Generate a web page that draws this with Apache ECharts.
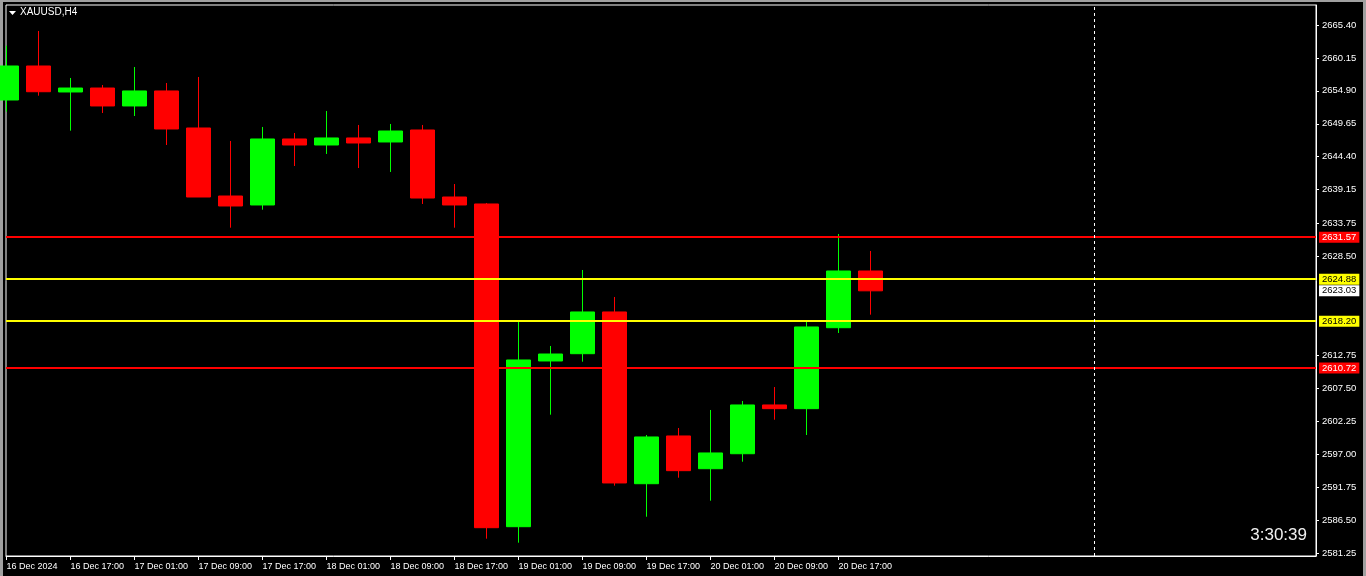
<!DOCTYPE html>
<html>
<head>
<meta charset="utf-8">
<script src="https://cdn.jsdelivr.net/npm/echarts@6/dist/echarts.min.js"></script>
<style>
  html, body { margin: 0; padding: 0; background: #000; }
  #chart { width: 1366px; height: 576px; }
</style>
</head>
<body>
<div id="chart"></div>
<script>
// XAUUSD H4 candles, 16 Dec 09:00 .. 20 Dec 21:00
const times = [
  '16 Dec 09:00', '16 Dec 13:00', '16 Dec 17:00', '16 Dec 21:00',
  '17 Dec 01:00', '17 Dec 05:00', '17 Dec 09:00', '17 Dec 13:00', '17 Dec 17:00', '17 Dec 21:00',
  '18 Dec 01:00', '18 Dec 05:00', '18 Dec 09:00', '18 Dec 13:00', '18 Dec 17:00', '18 Dec 21:00',
  '19 Dec 01:00', '19 Dec 05:00', '19 Dec 09:00', '19 Dec 13:00', '19 Dec 17:00', '19 Dec 21:00',
  '20 Dec 01:00', '20 Dec 05:00', '20 Dec 09:00', '20 Dec 13:00', '20 Dec 17:00', '20 Dec 21:00'
];
const opens = [2653.44, 2658.86, 2654.72, 2655.35, 2652.49, 2654.88, 2648.98, 2638.14, 2636.71, 2647.23,
  2646.27, 2647.39, 2646.75, 2648.66, 2637.98, 2636.87, 2585.44, 2611.85, 2613.01, 2619.66,
  2592.29, 2599.90, 2594.68, 2597.07, 2604.84, 2604.25, 2617.15, 2626.19];
const closes = [2658.86, 2654.76, 2655.35, 2652.49, 2654.88, 2648.82, 2637.98, 2636.55, 2647.23, 2646.27,
  2647.39, 2646.59, 2648.50, 2637.82, 2636.71, 2585.28, 2612.01, 2612.96, 2619.66, 2592.41,
  2599.74, 2594.37, 2597.19, 2604.84, 2604.25, 2617.27, 2626.19, 2623.03];
const lows = [2651.58, 2654.13, 2648.55, 2651.37, 2650.89, 2646.27, 2637.98, 2633.09, 2635.96, 2642.92,
  2644.84, 2642.60, 2641.97, 2636.87, 2633.09, 2583.53, 2582.89, 2603.29, 2611.74, 2591.98,
  2587.03, 2593.25, 2589.58, 2595.80, 2602.49, 2600.05, 2616.31, 2619.23];
const highs = [2662.10, 2664.44, 2656.95, 2655.83, 2658.70, 2656.15, 2657.11, 2646.91, 2649.14, 2648.18,
  2651.69, 2649.46, 2649.62, 2649.46, 2640.05, 2637.03, 2618.11, 2614.24, 2626.35, 2622.05,
  2600.05, 2601.17, 2604.04, 2605.47, 2607.70, 2618.33, 2632.09, 2629.38];

// time axis labels (every second bar)
const xTickIndex = [0, 2, 4, 6, 8, 10, 12, 14, 16, 18, 20, 22, 24, 26];
const xTickLabels = ['16 Dec 2024', '16 Dec 17:00', '17 Dec 01:00', '17 Dec 09:00', '17 Dec 17:00',
  '18 Dec 01:00', '18 Dec 09:00', '18 Dec 17:00', '19 Dec 01:00', '19 Dec 09:00', '19 Dec 17:00',
  '20 Dec 01:00', '20 Dec 09:00', '20 Dec 17:00'];

// price scale labels
const yTickValues = [2665.40, 2660.15, 2654.90, 2649.65, 2644.40, 2639.15, 2633.75, 2628.50,
  2612.75, 2607.50, 2602.25, 2597.00, 2591.75, 2586.50, 2581.25];

// horizontal levels + current bid
const levelPrices = [2631.57, 2624.88, 2618.20, 2610.72];
const levelColors = ['#ff0000', '#ffff00', '#ffff00', '#ff0000'];
const levelTextColors = ['#ffffff', '#000000', '#000000', '#ffffff'];
const bidPrice = 2623.03;
const separatorBar = 34;

const title = 'XAUUSD,H4';
const timer = '3:30:39';

const candles = times.map((t, i) => [i, opens[i], closes[i], lows[i], highs[i]]);

const priceLabel = (text, color, bg) => ({
  show: true,
  position: 'end',
  distance: 3,
  formatter: text,
  color: color,
  backgroundColor: bg,
  padding: [1, 3, 0, 3],
  fontSize: 9.5,
  fontFamily: 'Liberation Sans',
});

const levelLines = levelPrices.map((p, i) => ({
  yAxis: p,
  lineStyle: { color: levelColors[i], width: 2, type: 'solid' },
  label: priceLabel(p.toFixed(2), levelTextColors[i], levelColors[i]),
}));

const chart = echarts.init(document.getElementById('chart'));
chart.setOption({
  animation: false,
  backgroundColor: '#000000',
  grid: {
    left: 6,
    right: 50,
    top: 5,
    bottom: 20,
    show: true,
    borderColor: '#ffffff',
    borderWidth: 1,
    backgroundColor: '#000000',
  },
  xAxis: {
    type: 'value',
    // half a pixel shift so 1px wicks land on a pixel column
    min: -0.0156,
    max: 40.924,
    splitLine: { show: false },
    axisLine: { show: true, onZero: false, lineStyle: { color: '#ffffff', width: 1 } },
    axisTick: {
      show: true,
      customValues: xTickIndex,
      length: 4,
      lineStyle: { color: '#ffffff' },
    },
    axisLabel: {
      customValues: xTickIndex,
      align: 'left',
      margin: 6,
      color: '#ffffff',
      fontSize: 9,
      fontFamily: 'Liberation Sans',
      formatter: (v) => xTickLabels[xTickIndex.indexOf(Math.round(v))] || '',
    },
  },
  yAxis: {
    type: 'value',
    position: 'right',
    min: 2580.77,
    max: 2668.58,
    splitLine: { show: false },
    axisLine: { show: true, onZero: false, lineStyle: { color: '#ffffff', width: 1 } },
    axisTick: {
      show: true,
      customValues: yTickValues,
      length: 3,
      lineStyle: { color: '#ffffff' },
    },
    axisLabel: {
      customValues: yTickValues,
      margin: 6,
      color: '#ffffff',
      fontSize: 9.5,
      fontFamily: 'Liberation Sans',
      formatter: (v) => v.toFixed(2),
    },
  },
  series: [
    {
      type: 'candlestick',
      data: candles,
      encode: { x: 0, y: [1, 2, 3, 4] },
      barWidth: 24,
      clip: true,
      itemStyle: {
        color: '#00ff00',
        color0: '#ff0000',
        borderColor: '#00ff00',
        borderColor0: '#ff0000',
        borderWidth: 1,
      },
      markLine: {
        silent: true,
        symbol: ['none', 'none'],
        data: [
          ...levelLines,
          {
            yAxis: bidPrice,
            lineStyle: { width: 0, color: '#ffffff' },
            label: priceLabel(bidPrice.toFixed(2), '#000000', '#ffffff'),
          },
          {
            xAxis: separatorBar,
            lineStyle: { color: '#ffffff', width: 1, type: [3, 3] },
            label: { show: false },
          },
        ],
      },
    },
  ],
  graphic: [
    // window frame edges
    { type: 'rect', shape: { x: 0, y: 0, width: 3, height: 576 }, style: { fill: '#a0a0a0' } },
    { type: 'rect', shape: { x: 1363, y: 0, width: 3, height: 576 }, style: { fill: '#a0a0a0' } },
    { type: 'rect', shape: { x: 0, y: 0, width: 1366, height: 2 }, style: { fill: '#a0a0a0' } },
    {
      type: 'polygon',
      shape: { points: [[9, 11], [16, 11], [12.5, 15]] },
      style: { fill: '#ffffff' },
    },
    {
      type: 'text',
      left: 20,
      top: 7,
      style: { text: title, fill: '#ffffff', font: '10px "Liberation Sans"' },
    },
    {
      type: 'text',
      right: 59,
      top: 527,
      style: { text: timer, fill: '#f0f0f0', font: '17px "Liberation Sans"' },
    },
  ],
});
</script>
</body>
</html>
